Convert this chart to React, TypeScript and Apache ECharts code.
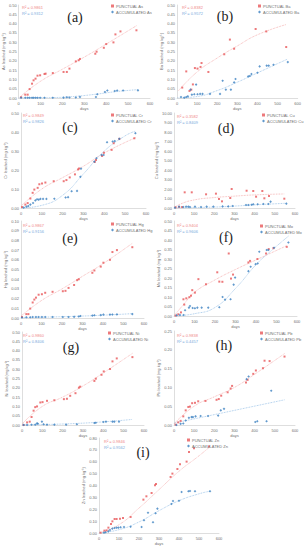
import React, { useEffect, useRef } from "react";
import * as echarts from "echarts";

const dayTicks = [0, 100, 200, 300, 400, 500, 600];

// (a) As
const asPunctual = [[11,0.004],[30,0.018],[41,0.018],[50,0.048],[61,0.077],[68,0.095],[77,0.104],[86,0.12],[98,0.122],[118,0.129],[123,0.131],[156,0.134],[205,0.14],[220,0.14],[232,0.158],[261,0.197],[274,0.203],[280,0.21],[350,0.238],[356,0.249],[389,0.27],[400,0.29],[433,0.299],[442,0.342],[465,0.358],[538,0.364]];
const asAccum = [[11,0.001],[30,0.001],[41,0.001],[50,0.001],[61,0.001],[68,0.001],[77,0.001],[86,0.001],[98,0.001],[118,0.001],[156,0.001],[205,0.002],[220,0.004],[232,0.003],[261,0.003],[280,0.006],[353,0.005],[359,0.02],[394,0.032],[405,0.04],[439,0.038],[450,0.04],[477,0.04],[545,0.041]];
const asTrendP = [[5,0.005],[100,0.09],[200,0.155],[300,0.22],[400,0.29],[540,0.39]];
const asTrendA = [[0,0],[150,0.002],[250,0.008],[350,0.02],[450,0.035],[545,0.045]];

// (b) Ba
const baPunctual = [[26,0.056],[46,0.143],[62,0.038],[71,0.045],[79,0.073],[89,0.161],[102,0.158],[117,0.167],[122,0.188],[156,0.14],[235,0.235],[263,0.314],[284,0.265],[391,0.371],[444,0.358],[543,0.274]];
const baAccum = [[20,0.005],[36,0.002],[46,0.005],[54,0.009],[67,0.045],[74,0.018],[86,0.02],[95,0.072],[102,0.02],[115,0.022],[127,0.022],[164,0.022],[214,0.022],[227,0.093],[243,0.045],[268,0.045],[284,0.084],[291,0.102],[354,0.116],[362,0.118],[370,0.129],[400,0.136],[411,0.17],[446,0.174],[456,0.174],[480,0.179],[551,0.193]];
const baTrendP = [[8,0.04],[100,0.14],[200,0.215],[300,0.28],[400,0.34],[543,0.395]];
const baTrendA = [[0,0],[100,0.008],[200,0.04],[300,0.085],[400,0.135],[551,0.21]];

// (c) Cr
const crPunctual = [[5,0.005],[21,0.018],[32,0.026],[45,0.05],[56,0.08],[64,0.097],[80,0.106],[88,0.125],[101,0.129],[117,0.134],[157,0.141],[205,0.141],[218,0.147],[234,0.161],[259,0.177],[274,0.203],[279,0.208],[354,0.242],[360,0.253],[389,0.274],[398,0.291],[435,0.306],[445,0.341],[472,0.364],[544,0.367]];
const crAccum = [[13,0.002],[26,0.007],[35,0.01],[45,0.018],[58,0.026],[69,0.04],[77,0.046],[85,0.044],[93,0.048],[106,0.048],[122,0.048],[160,0.049],[214,0.055],[226,0.057],[243,0.088],[269,0.09],[285,0.164],[288,0.207],[352,0.244],[362,0.262],[387,0.279],[397,0.279],[413,0.346],[440,0.35],[450,0.352],[472,0.364],[549,0.394]];
const crTrendP = [[0,0.01],[100,0.1],[200,0.16],[300,0.22],[400,0.29],[550,0.37]];
const crTrendA = [[0,0],[100,0.014],[200,0.067],[300,0.18],[400,0.3],[500,0.38],[550,0.405]];

// (d) Cu
const cuPunctual = [[8,0.07],[25,0.12],[40,0.1],[53,1.65],[88,1.65],[159,1.44],[208,1.51],[223,0.95],[238,0.7],[279,1.05],[286,2.0],[360,1.82],[393,1.79],[407,1.19],[438,1.79],[448,1.02],[471,1.26],[547,0.98]];
const cuAccum = [[5,0.035],[25,0.14],[46,0.1],[60,0.14],[71,0.14],[79,0.1],[104,0.14],[134,0.1],[162,0.14],[195,0.14],[241,0.17],[269,0.17],[291,0.21],[357,0.32],[369,0.32],[385,0.35],[393,0.39],[415,0.39],[443,0.42],[468,0.42],[479,0.67],[557,0.46]];
const cuTrendP = [[0,0],[30,0.4],[100,0.85],[200,1.1],[300,1.25],[400,1.38],[547,1.48]];
const cuTrendA = [[0,0],[200,0.1],[300,0.2],[400,0.33],[557,0.5]];

// (e) Hg
const hgPunctual = [[5,0.001],[26,0.004],[36,0.004],[45,0.0097],[57,0.016],[65,0.019],[73,0.021],[86,0.024],[102,0.0245],[118,0.026],[154,0.027],[204,0.0276],[217,0.028],[232,0.031],[259,0.034],[274,0.039],[282,0.04],[348,0.0466],[358,0.049],[389,0.053],[402,0.057],[434,0.06],[446,0.068],[468,0.07],[543,0.073]];
const hgAccum = [[5,0.0005],[26,0.0008],[45,0.0008],[57,0.001],[73,0.001],[86,0.001],[102,0.001],[118,0.001],[154,0.001],[204,0.001],[232,0.001],[259,0.0012],[282,0.0015],[290,0.002],[348,0.0025],[358,0.0028],[389,0.003],[402,0.0035],[434,0.0035],[446,0.0036],[468,0.0037],[543,0.004]];
const hgTrendP = [[0,0.002],[100,0.018],[200,0.03],[300,0.043],[400,0.056],[543,0.077]];
const hgTrendA = [[0,0.0005],[300,0.002],[543,0.0045]];

// (f) Mo
const moPunctual = [[8,0.002],[21,0.009],[34,0.019],[46,0.088],[50,0.06],[60,0.093],[75,0.099],[83,0.107],[89,0.136],[102,0.123],[119,0.194],[156,0.167],[211,0.23],[221,0.181],[236,0.18],[267,0.329],[278,0.197],[288,0.218],[363,0.282],[371,0.29],[407,0.3],[449,0.329],[462,0.352],[485,0.357],[550,0.364]];
const moAccum = [[13,0.004],[29,0.005],[47,0.005],[54,0.03],[73,0.044],[78,0.053],[91,0.042],[102,0.041],[114,0.044],[135,0.044],[167,0.044],[221,0.046],[237,0.1],[249,0.086],[276,0.088],[291,0.165],[298,0.202],[363,0.236],[374,0.259],[398,0.273],[408,0.276],[416,0.338],[452,0.347],[460,0.347],[488,0.359],[558,0.387]];
const moTrendP = [[0,0],[50,0.065],[100,0.125],[200,0.19],[300,0.245],[400,0.295],[550,0.37]];
const moTrendA = [[0,0],[100,0.012],[200,0.045],[300,0.145],[400,0.27],[460,0.33],[558,0.42]];

// (g) Ni
const niPunctual = [[8,0.0],[25,0.014],[38,0.018],[47,0.043],[57,0.077],[65,0.096],[74,0.1],[90,0.121],[101,0.123],[123,0.13],[159,0.133],[206,0.139],[221,0.141],[237,0.157],[263,0.171],[280,0.201],[286,0.206],[356,0.237],[363,0.249],[391,0.27],[402,0.288],[433,0.301],[445,0.342],[466,0.358],[543,0.365]];
const niAccum = [[8,0.0005],[25,0.0005],[47,0.001],[65,0.002],[74,0.009],[78,0.007],[98,0.018],[106,0.004],[123,0.002],[159,0.002],[217,0.002],[270,0.004],[356,0.011],[363,0.012],[400,0.016],[413,0.018],[445,0.018],[454,0.018],[477,0.018]];
const niTrendP = [[0,0.005],[100,0.1],[200,0.15],[300,0.21],[400,0.28],[543,0.385]];
const niTrendA = [[0,0],[300,0.01],[543,0.03]];

// (h) Pb
const pbPunctual = [[8,0.001],[21,0.007],[33,0.011],[46,0.023],[58,0.039],[71,0.048],[79,0.049],[90,0.058],[104,0.059],[120,0.063],[156,0.064],[211,0.067],[222,0.069],[234,0.078],[266,0.087],[281,0.097],[288,0.104],[357,0.113],[365,0.12],[393,0.136],[406,0.145],[441,0.151],[449,0.171],[474,0.17],[548,0.182]];
const pbAccum = [[12,0.0],[33,0.003],[46,0.004],[58,0.012],[74,0.019],[87,0.021],[94,0.021],[107,0.023],[132,0.024],[169,0.024],[219,0.025],[232,0.039],[248,0.043],[360,0.122],[370,0.129],[403,0.008],[413,0.01],[459,0.01],[482,0.091]];
const pbTrendP = [[0,0.003],[100,0.05],[200,0.075],[300,0.1],[400,0.135],[548,0.19]];
const pbTrendA = [[0,0.005],[548,0.067]];

// (i) Zn
const znPunctual = [[8,0.003],[27,0.02],[38,0.022],[47,0.045],[60,0.076],[67,0.098],[78,0.118],[88,0.118],[105,0.121],[120,0.126],[158,0.135],[222,0.281],[237,0.309],[263,0.337],[280,0.402],[285,0.413],[358,0.472],[367,0.5],[392,0.539],[405,0.579],[438,0.601],[450,0.683],[475,0.713],[550,0.728]];
const znAccum = [[25,0.003],[33,0.006],[47,0.014],[55,0.025],[67,0.037],[78,0.042],[88,0.045],[97,0.045],[108,0.048],[125,0.051],[158,0.053],[213,0.051],[225,0.107],[245,0.171],[270,0.09],[283,0.166],[292,0.205],[362,0.244],[370,0.27],[400,0.272],[413,0.345],[447,0.351],[455,0.354],[480,0.351],[555,0.351]];
const znTrendP = [[0,0],[100,0.07],[200,0.21],[300,0.365],[400,0.52],[500,0.65],[550,0.72]];
const znTrendA = [[0,0],[100,0.028],[200,0.093],[300,0.188],[400,0.272],[500,0.33],[555,0.352]];

const elements = ["As", "Ba", "Cr", "Cu", "Hg", "Mo", "Ni", "Pb", "Zn"];
const tags = ["(a)", "(b)", "(c)", "(d)", "(e)", "(f)", "(g)", "(h)", "(i)"];
const r2Punctual = ["0.9861", "0.8382", "0.9849", "0.3582", "0.9867", "0.9404", "0.9860", "0.9838", "0.9846"];
const r2Accum = ["0.9312", "0.9572", "0.9826", "0.8409", "0.9156", "0.9606", "0.8406", "0.4457", "0.9562"];
const yMaxes = [0.5, 0.5, 0.5, 10, 0.1, 0.5, 0.5, 0.25, 0.8];
const ySteps = [0.05, 0.05, 0.1, 1, 0.01, 0.05, 0.05, 0.05, 0.1];
const punctualSets = [asPunctual, baPunctual, crPunctual, cuPunctual, hgPunctual, moPunctual, niPunctual, pbPunctual, znPunctual];
const accumSets = [asAccum, baAccum, crAccum, cuAccum, hgAccum, moAccum, niAccum, pbAccum, znAccum];
const trendPSets = [asTrendP, baTrendP, crTrendP, cuTrendP, hgTrendP, moTrendP, niTrendP, pbTrendP, znTrendP];
const trendASets = [asTrendA, baTrendA, crTrendA, cuTrendA, hgTrendA, moTrendA, niTrendA, pbTrendA, znTrendA];

// layout (pixels)
const layout = [
  { left: 18, top: 5, width: 132, height: 93, tag: [75, 17], leg: [111, 4], r2: [22, 7], gap: 11 },
  { left: 177, top: 5, width: 122, height: 93, tag: [225, 16], leg: [258, 4], r2: [182, 7], gap: 11 },
  { left: 21, top: 113, width: 125, height: 95, tag: [70, 127], leg: [111, 113], r2: [23, 115], gap: 11 },
  { left: 174, top: 113, width: 121, height: 95, tag: [226, 128], leg: [262, 113], r2: [177, 116], gap: 13 },
  { left: 21, top: 221, width: 123, height: 97, tag: [70, 238], leg: [111, 222], r2: [23, 225], gap: 11 },
  { left: 174, top: 221, width: 123, height: 95, tag: [226, 237], leg: [260, 224], r2: [177, 225], gap: 11 },
  { left: 22, top: 332, width: 122, height: 93, tag: [71, 347], leg: [108, 331], r2: [23, 335], gap: 11 },
  { left: 174, top: 331, width: 121, height: 94, tag: [224, 345], leg: [260, 331], r2: [177, 335], gap: 11 },
  { left: 99, top: 438, width: 120, height: 95, tag: [143, 452], leg: [187, 438], r2: [104, 441], gap: 11 },
];

const RED = "#e8585a";
const BLUE = "#3a7fc0";
const RED_TREND = "#f4a6a6";
const BLUE_TREND = "#8fbbe4";
const AXIS = "#c8c8c8";
const TXT = "#707070";

export default function App() {
  const ref = useRef<HTMLDivElement>(null);
  useEffect(() => {
    if (!ref.current) return;
    const chart = echarts.init(ref.current, null, { renderer: "svg" });
    const grid: any[] = [];
    const xAxis: any[] = [];
    const yAxis: any[] = [];
    const series: any[] = [];
    const legend: any[] = [];
    const graphic: any[] = [];
    elements.forEach((el, i) => {
      const L = layout[i];
      grid.push({ left: L.left, top: L.top, width: L.width, height: L.height, containLabel: false });
      xAxis.push({
        type: "value", gridIndex: i, min: dayTicks[0], max: dayTicks[dayTicks.length - 1], interval: 100,
        name: "days", nameLocation: "middle", nameGap: 8,
        nameTextStyle: { fontSize: 4, color: TXT, fontFamily: "Liberation Sans" },
        axisLine: { show: true, lineStyle: { color: AXIS, width: 0.6 } },
        axisTick: { show: false }, splitLine: { show: false },
        axisLabel: { fontSize: 4, color: TXT, margin: 3, fontFamily: "Liberation Sans" },
      });
      yAxis.push({
        type: "value", gridIndex: i, min: 0, max: yMaxes[i], interval: ySteps[i],
        name: `${el} leached (mg kg⁻¹)`, nameLocation: "middle", nameGap: L.gap,
        nameTextStyle: { fontSize: 4, color: TXT, fontFamily: "Liberation Sans" },
        axisLine: { show: true, lineStyle: { color: AXIS, width: 0.6 } },
        axisTick: { show: false }, splitLine: { show: false },
        axisLabel: {
          fontSize: 4, color: TXT, margin: 2, fontFamily: "Liberation Sans",
          formatter: (v: number) => v.toFixed(2),
        },
      });
      const pName = `PUNCTUAL ${el}`;
      const aName = `ACCUMULATED ${el}`;
      series.push({
        type: "line", xAxisIndex: i, yAxisIndex: i, data: trendPSets[i], smooth: true,
        showSymbol: false, silent: true, lineStyle: { color: RED_TREND, width: 0.8, type: "dotted" }, z: 1,
      });
      series.push({
        type: "line", xAxisIndex: i, yAxisIndex: i, data: trendASets[i], smooth: true,
        showSymbol: false, silent: true, lineStyle: { color: BLUE_TREND, width: 0.8, type: "dotted" }, z: 1,
      });
      series.push({
        type: "scatter", name: pName, xAxisIndex: i, yAxisIndex: i, data: punctualSets[i],
        symbol: "rect", symbolSize: 2, itemStyle: { color: RED }, z: 3,
      });
      series.push({
        type: "scatter", name: aName, xAxisIndex: i, yAxisIndex: i, data: accumSets[i],
        symbol: "diamond", symbolSize: 2.6, itemStyle: { color: BLUE }, z: 3,
      });
      legend.push({
        data: [pName, aName], left: L.leg[0], top: L.leg[1], orient: "vertical",
        itemWidth: 3, itemHeight: 3, itemGap: 2, padding: 0, selectedMode: false,
        textStyle: { fontSize: 4, color: TXT, fontFamily: "Liberation Sans", padding: [0, 0, 0, -3] },
      });
      graphic.push({
        type: "text", x: L.tag[0], y: L.tag[1], silent: true,
        style: { text: tags[i], fontSize: 14, fontFamily: "Liberation Serif", fill: "#222", align: "center", verticalAlign: "middle" },
      });
      graphic.push({
        type: "text", x: L.r2[0], y: L.r2[1], silent: true,
        style: { text: `R² = ${r2Punctual[i]}`, fontSize: 4, fontFamily: "Liberation Sans", fill: "#ef8888", verticalAlign: "middle" },
      });
      graphic.push({
        type: "text", x: L.r2[0], y: L.r2[1] + 6, silent: true,
        style: { text: `R² = ${r2Accum[i]}`, fontSize: 4, fontFamily: "Liberation Sans", fill: "#78aadc", verticalAlign: "middle" },
      });
    });
    chart.setOption({
      animation: false,
      backgroundColor: "#ffffff",
      grid, xAxis, yAxis, series, legend, graphic,
    });
    return () => chart.dispose();
  }, []);
  return (
    <div
      ref={ref}
      style={{ position: "absolute", left: 0, top: 0, width: 304, height: 550 }}
    />
  );
}
